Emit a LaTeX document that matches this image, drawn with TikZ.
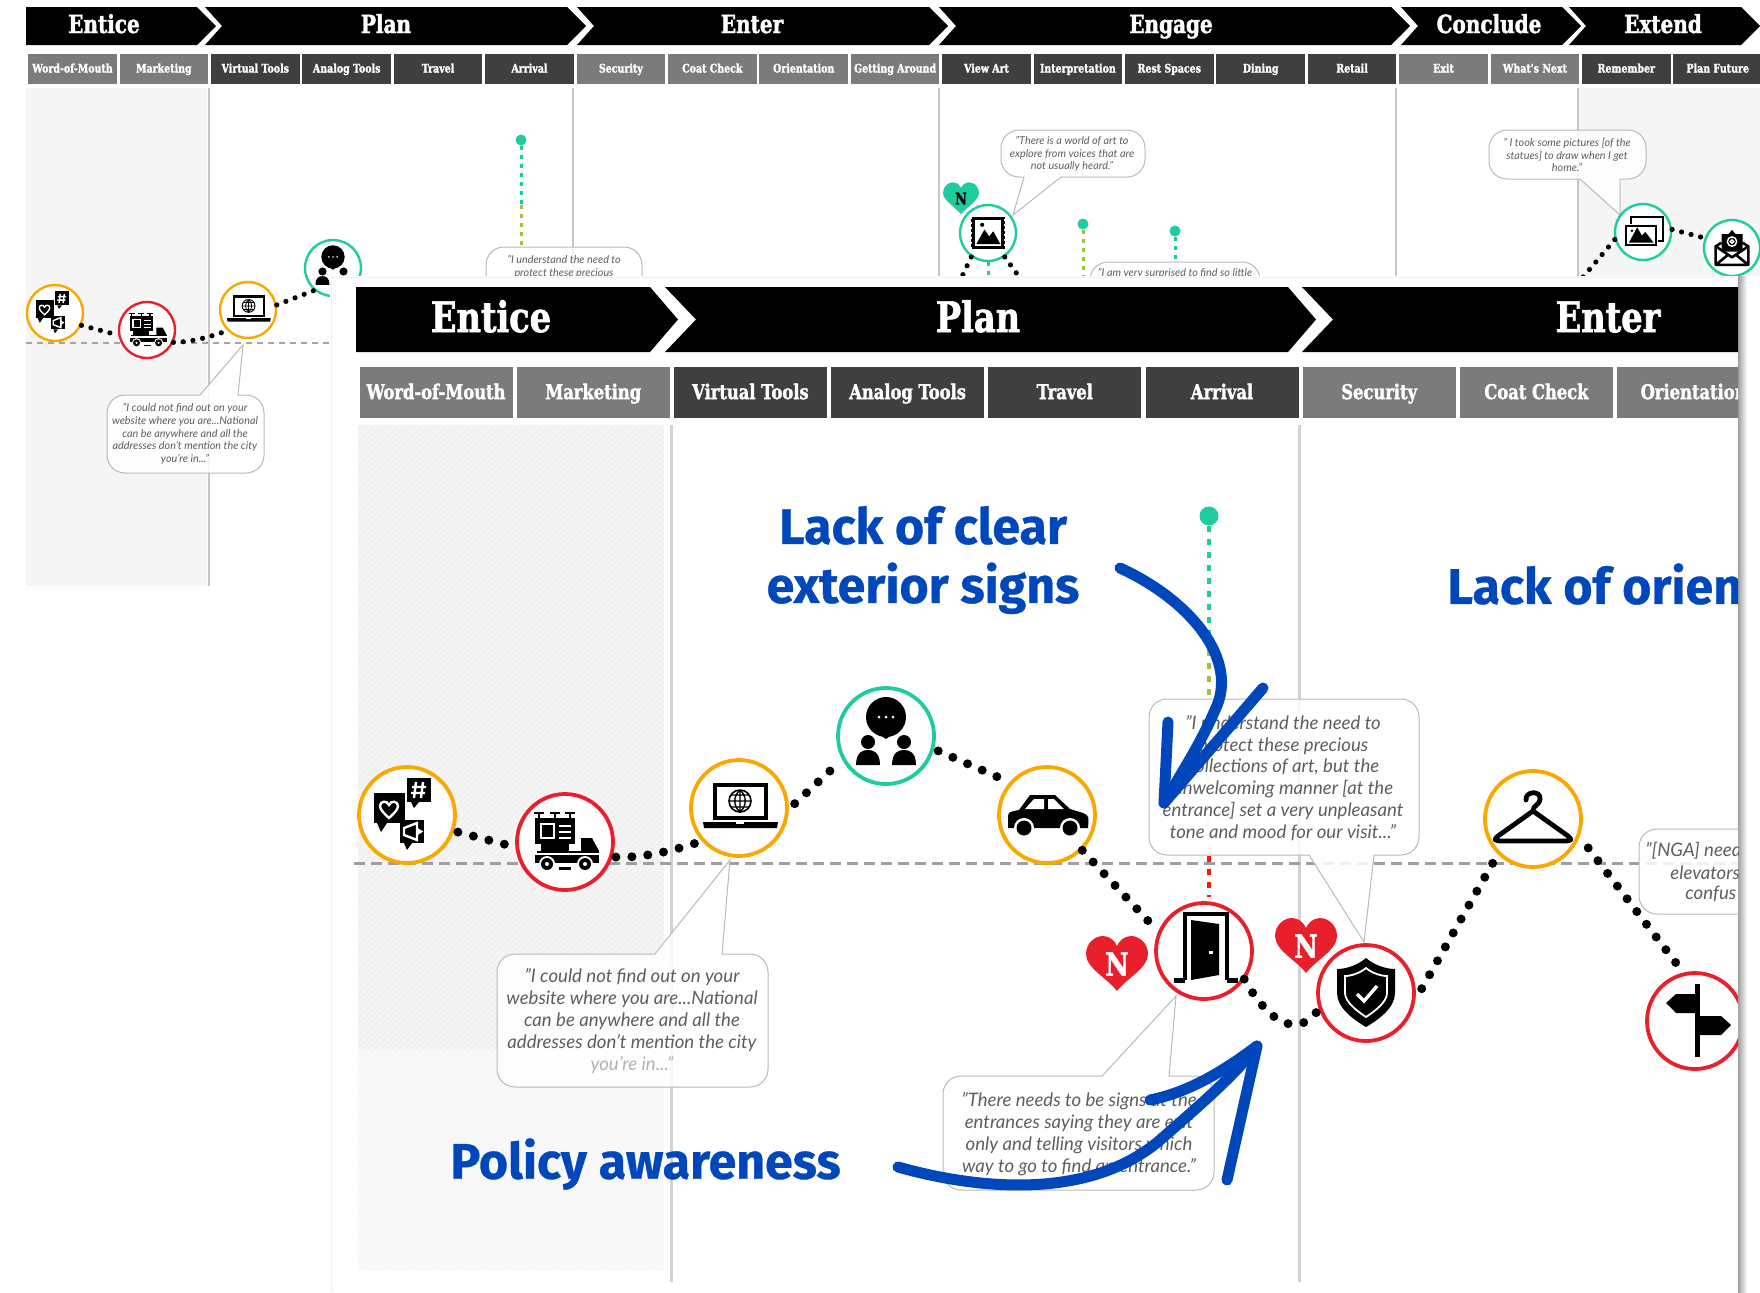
\documentclass[tikz,border=0pt]{standalone}
\usepackage{fontspec}
\usetikzlibrary{patterns}
\setmainfont{Lato}
\newfontfamily\slab[FakeStretch=0.8,FakeBold=1.6]{DejaVu Serif}
\newfontfamily\fira[FakeBold=0.6]{Fira Sans}
\definecolor{orng}{HTML}{F9A800}
\definecolor{redd}{HTML}{E8202C}
\definecolor{teal2}{HTML}{1ECC9F}
\definecolor{cdark}{HTML}{3F3F3F}
\definecolor{clight}{HTML}{7B7B7B}
\definecolor{blu}{HTML}{0047BB}
\definecolor{bgg}{HTML}{F5F5F5}
\definecolor{qgrey}{HTML}{5E5E5E}
\definecolor{lgreen}{HTML}{9BC53D}
\tikzset{
 bigring/.style={circle,fill=white,line width=1.9pt,minimum size=48pt,inner sep=0pt},
 smallring/.style={circle,fill=white,line width=1.2pt,minimum size=28pt,inner sep=0pt},
 idots/.style={line cap=round,dash pattern=on 0pt off 8pt,line width=4.5pt,black},
 tdots/.style={line cap=round,dash pattern=on 0pt off 4.9pt,line width=2.6pt,black},
 cellt/.style={minimum width=44.25pt,minimum height=15pt,inner sep=0pt,text=white,text height=4.2pt,text depth=1pt,font=\slab\bfseries\fontsize{5.9}{6}\selectfont},
 celli/.style={minimum width=76.5pt,minimum height=25.5pt,inner sep=0pt,text=white,text height=7.2pt,text depth=1.7pt,font=\slab\bfseries\fontsize{10.2}{11}\selectfont},
 headt/.style={text=white,text height=9pt,text depth=2pt,font=\slab\bfseries\fontsize{12.5}{13}\selectfont,inner sep=0pt},
 headi/.style={text=white,text height=15pt,text depth=3pt,font=\slab\bfseries\fontsize{21}{22}\selectfont,inner sep=0pt},
 qtop/.style={text=qgrey,align=center,inner sep=0pt,font=\itshape\fontsize{5.4}{6.3}\selectfont},
 qins/.style={text=qgrey,align=center,inner sep=0pt,font=\itshape\fontsize{9.3}{10.9}\selectfont},
 bubble/.style={draw=gray!55,line width=0.5pt,fill=white,fill opacity=0.85},
 bluet/.style={text=blu,align=center,inner sep=0pt,font=\fira\bfseries\fontsize{25}{29.5}\selectfont},
 bluearrow/.style={draw=blu,line width=5.5pt,line cap=round,line join=round},
 pin/.style={circle,fill=teal2,inner sep=0pt},
 pindotsa/.style={teal2,dash pattern=on 2pt off 2.5pt},
 pindotsb/.style={lgreen,dash pattern=on 2pt off 2.5pt},
}
\newcommand\bubtop[9]{% x1 y1 x2 y2 tl tr tipx tipy opts
 \path[bubble,#9] [rounded corners=9pt] (#1,#4) -- (#1,#2) [sharp corners] -- (#5,#2) -- (#7,#8) -- (#6,#2) [rounded corners=9pt] -- (#3,#2) -- (#3,#4) -- cycle;}
\newcommand\bubbot[9]{%
 \path[bubble,#9] [rounded corners=9pt] (#1,#4) -- (#1,#2) -- (#3,#2) -- (#3,#4) [sharp corners] -- (#6,#4) -- (#7,#8) -- (#5,#4) [rounded corners=9pt] -- cycle;}
\newcommand\chev[7]{\fill[black] (#1,#5) -- (#2,#5) -- (#3,#7) -- (#2,#6) -- (#1,#6) -- (#4,#7) -- cycle;}
\newcommand\heartshape{(0,28) .. controls (-10,15) and (-31,5) .. (-31,-9) .. controls (-31,-20) and (-22,-27) .. (-14,-27) .. controls (-7,-27) and (-2,-22) .. (0,-17) .. controls (2,-22) and (7,-27) .. (14,-27) .. controls (22,-27) and (31,-20) .. (31,-9) .. controls (31,5) and (10,15) .. (0,28) -- cycle}
\newcommand\icHeart[7]{\begin{scope}[shift={(#1,#2)},scale=#3]
 \fill[#4] \heartshape;
 \node[text=#5,inner sep=0pt,font=\slab\bfseries\fontsize{#6}{#6}\selectfont] (#7) at (0,1) {N};
\end{scope}}
\newcommand\icChat[3]{\begin{scope}[shift={(#1,#2)},scale=#3]
 \fill (-33,-22) rectangle (-2,8); \fill (-30,8) -- (-26,17) -- (-20,8) -- cycle;
 \draw[white,line width=#3*1.2pt] (-18,3) .. controls (-22,-1) and (-27,-5) .. (-27,-9) .. controls (-27,-14) and (-20,-15) .. (-18,-10) .. controls (-16,-15) and (-9,-14) .. (-9,-9) .. controls (-9,-5) and (-14,-1) .. (-18,3) -- cycle;
 \fill (0,-37) rectangle (24,-13); \fill (4,-13) -- (7,-7) -- (12,-13) -- cycle;
 \draw[white,line width=#3*1.2pt] (9,-33) -- (7,-17) (16,-33) -- (14,-17) (5,-28) -- (19,-28) (4,-22) -- (18,-22);
 \fill (-7,5) rectangle (17,28); \fill (-3,28) -- (0,35) -- (5,28) -- cycle;
 \draw[white,line width=#3*1.2pt] (-3,13) -- (10,8) -- (10,25) -- (-3,20) -- cycle (10,14) -- (14,16.5) -- (10,19);
\end{scope}}
\newcommand\icTruck[3]{\begin{scope}[shift={(#1,#2)},scale=#3]
 \draw[line width=#3*1pt] (-31,-29) -- (-21,-29) (-15,-29) -- (-5,-29) (0,-29) -- (10,-29) (-26,-29) -- (-26,-23) (-10,-29) -- (-10,-23) (5,-29) -- (5,-23);
 \fill (-30,-24) rectangle (10,2);
 \fill[white] (-25,-19) rectangle (-10,-3);
 \fill (-23,-17) rectangle (-12,-5);
 \draw[white,line width=#3*0.9pt] (-6,-16) -- (6,-16) (-6,-10) -- (6,-10) (-6,-4) -- (6,-4);
 \fill (-24,2) rectangle (4,9);
 \fill (-28,9) rectangle (34,11);
 \fill (16,-4) -- (27,-4) -- (34,9) -- (16,9) -- cycle;
 \fill (-30,13) rectangle (34,21);
 \fill[white] (-18,22) circle[radius=8]; \fill (-18,22) circle[radius=6]; \fill[white] (-18,22) circle[radius=2];
 \fill[white] (20,22) circle[radius=8]; \fill (20,22) circle[radius=6]; \fill[white] (20,22) circle[radius=2];
 \fill (-6,25) rectangle (6,28);
\end{scope}}
\newcommand\icLaptop[3]{\begin{scope}[shift={(#1,#2)},scale=#3]
 \fill (-26,-25) rectangle (29,12);
 \fill[white] (-22,-21) rectangle (25,8);
 \draw[line width=#3*0.8pt] (1,-7) circle[radius=11];
 \draw[line width=#3*0.7pt] (1,-18) .. controls (-6,-12) and (-6,-2) .. (1,4) .. controls (8,-2) and (8,-12) .. (1,-18) (1,-18) -- (1,4) (-10,-7) -- (12,-7) (-8,-13) -- (10,-13) (-8,-1) -- (10,-1);
 \fill (-36,14) -- (39,14) -- (38,20) -- (-35,20) -- cycle;
 \fill[white] (-3,14) rectangle (5,16);
\end{scope}}
\newcommand\icPeople[3]{\begin{scope}[shift={(#1,#2)},scale=#3]
 \fill (0,-19) circle[radius=20]; \fill (-7,-2) -- (0,3) -- (7,-2) -- cycle;
 \fill[white] (-7,-19) circle[radius=1.5] (0,-19) circle[radius=1.5] (7,-19) circle[radius=1.5];
 \fill (-18,6) circle[radius=7]; \fill (18,6) circle[radius=7];
 \fill (-30,29) .. controls (-30,15) and (-22,14) .. (-18,14) .. controls (-14,14) and (-6,15) .. (-6,29) -- cycle;
 \fill (30,29) .. controls (30,15) and (22,14) .. (18,14) .. controls (14,14) and (6,15) .. (6,29) -- cycle;
\end{scope}}
\newcommand\icCar[3]{\begin{scope}[shift={(#1,#2)},scale=#3]
 \fill (-39,13) -- (-39,1) .. controls (-38,-3) .. (-28,-5) -- (-17,-20) -- (8,-20) -- (23,-6) -- (36,-2) .. controls (42,1) .. (41,13) -- cycle;
 \fill[white] (-13,-16) -- (-3,-16) -- (-3,-6) -- (-22,-6) -- cycle;
 \fill[white] (1,-16) -- (7,-16) -- (17,-6) -- (1,-6) -- cycle;
 \fill[white] (-23,13) circle[radius=10]; \fill (-23,13) circle[radius=7.5];
 \fill[white] (23,13) circle[radius=10]; \fill (23,13) circle[radius=7.5];
\end{scope}}
\newcommand\icDoor[3]{\begin{scope}[shift={(#1,#2)},scale=#3]
 \draw[line width=#3*2.2pt] (-19,29) -- (-19,-37) -- (23,-37) -- (23,29) (-30,29.5) -- (-19,29.5) (23,29.5) -- (34,29.5);
 \fill (-13,-31) -- (15,-27) -- (15,24) -- (-13,29) -- cycle;
 \fill[white] (5,0) rectangle (9,2.5);
\end{scope}}
\newcommand\icShield[3]{\begin{scope}[shift={(#1,#2)},scale=#3]
 \fill (0,-35) .. controls (8,-28) and (20,-24) .. (29,-24) -- (29,0) .. controls (29,15) and (12,27) .. (0,34) .. controls (-12,27) and (-29,15) .. (-29,0) -- (-29,-24) .. controls (-20,-24) and (-8,-28) .. cycle;
 \draw[white,line width=#3*0.9pt] (0,-25) .. controls (6,-20) and (15,-17) .. (21,-17) -- (21,0) .. controls (21,9) and (9,18) .. (0,24) .. controls (-9,18) and (-21,9) .. (-21,0) -- (-21,-17) .. controls (-15,-17) and (-6,-20) .. cycle;
 \draw[white,line width=#3*1.7pt] (-9,1) -- (-2,8) -- (11,-7);
\end{scope}}
\newcommand\icHanger[3]{\begin{scope}[shift={(#1,#2)},scale=#3]
 \draw[line width=#3*2.4pt,line join=round,line cap=round] (-7,-19) .. controls (-8,-28) and (8,-29) .. (7,-20) .. controls (6,-13) and (0,-14) .. (0,-8) -- (35,17) .. controls (39,21) .. (33,22) -- (-33,22) .. controls (-39,21) .. (-35,17) -- (0,-8);
\end{scope}}
\newcommand\icSign[3]{\begin{scope}[shift={(#1,#2)},scale=#3]
 \fill (0,-37) rectangle (5,36);
 \fill (0,-27) -- (-19,-27) -- (-29,-18) -- (-19,-8) -- (0,-8) -- cycle;
 \fill (5,-5) -- (26,-5) -- (36,4) -- (26,14) -- (5,14) -- cycle;
\end{scope}}
\newcommand\icFrame[3]{\begin{scope}[shift={(#1,#2)},scale=#3]
 \fill (-29,-28) rectangle (29,28);
 \draw[white,line width=#3*0.9pt,dash pattern=on 1pt off 1.5pt] (-29,-28) rectangle (29,28);
 \fill[white] (-23,-22) rectangle (23,22);
 \fill (-20,19) -- (-6,-6) -- (2,6) -- (9,-3) -- (21,19) -- cycle;
 \fill (-10,-14) circle[radius=3.5];
\end{scope}}
\newcommand\icPhotos[3]{\begin{scope}[shift={(#1,#2)},scale=#3]
 \draw[line width=#3*1.8pt] (-21,-26) rectangle (34,15);
 \fill[white] (-31,-14) rectangle (26,26);
 \fill (-31,-12) rectangle (24,24);
 \fill[white] (-27,-8) rectangle (20,20);
 \fill (-24,18) -- (-10,-8) -- (-2,6) -- (4,0) -- (18,18) -- cycle;
 \fill (-19,-2) circle[radius=2.5];
\end{scope}}
\newcommand\icMail[3]{\begin{scope}[shift={(#1,#2)},scale=#3]
 \fill (-18,-24) -- (-6,-24) -- (0,-31) -- (6,-24) -- (18,-24) -- (18,6) -- (-18,6) -- cycle;
 \draw[white,line width=#3*1.2pt] (0,-11) circle[radius=8];
 \draw[white,line width=#3*1.2pt] (0,-11) circle[radius=3];
 \draw[line width=#3*2.2pt,line join=round] (-18,-9) -- (-28,-3) -- (-28,29) -- (28,29) -- (28,-3) -- (18,-9) (-28,-3) -- (0,16) -- (28,-3) (-28,29) -- (-6,11) (28,29) -- (6,11);
\end{scope}}
\begin{document}
\begin{tikzpicture}[x=0.5pt,y=-0.5pt]
\useasboundingbox (0,0) rectangle (1760,1292);
\fill[white] (0,0) rectangle (1760,1292);
% ---------- back sheet
\fill[bgg] (26,88) rectangle (207,586);
\fill[bgg] (1578,88) rectangle (1760,276);
\draw[gray!45,line width=0.6pt] (209,88) -- (209,586) (573,88) -- (573,276) (939,88) -- (939,276) (1396,88) -- (1396,276) (1578,88) -- (1578,276);
\chev{26}{197}{216}{26}{7}{45}{26}
\chev{205}{567}{586}{222}{7}{45}{26}
\chev{577}{929}{948}{594}{7}{45}{26}
\chev{939}{1391}{1410}{956}{7}{45}{26}
\chev{1401}{1562}{1581}{1418}{7}{45}{26}
\chev{1569}{1741}{1760}{1586}{7}{45}{26}
\node[headt] (ht1) at (104,26) {Entice};
\node[headt] (ht2) at (386,26) {Plan};
\node[headt] (ht3) at (752,26) {Enter};
\node[headt] (ht4) at (1171,26) {Engage};
\node[headt] (ht5) at (1489,26) {Conclude};
\node[headt] (ht6) at (1663,26) {Extend};
\foreach \i/\lab/\col in {0/Word-of-Mouth/clight,1/Marketing/clight,2/Virtual Tools/cdark,3/Analog Tools/cdark,4/Travel/cdark,5/Arrival/cdark,6/Security/clight,7/Coat Check/clight,8/Orientation/clight,9/Getting Around/clight,10/View Art/cdark,11/Interpretation/cdark,12/Rest Spaces/cdark,13/Dining/cdark,14/Retail/cdark,15/Exit/clight,16/What's Next/clight,17/Remember/cdark,18/Plan Future/cdark}
 \node[cellt,fill=\col,yshift=0pt] (tc\i) at ({72.5+91.4*\i},68.5) {\raisebox{-0.4pt}{\lab}};
\draw[gray!70,line width=0.8pt,dash pattern=on 3pt off 2.5pt] (26,343) -- (340,343);
% back pins
\node[pin,minimum size=5.5pt] (tp1) at (521,140) {};
\node[pin,minimum size=5.5pt] (tp2) at (1083,224) {};
\node[pin,minimum size=5.5pt] (tp3) at (1175,231) {};
\coordinate (tp1a) at (521,205); \coordinate (tp1b) at (521,246);
\coordinate (tp2b) at (1083,276); \coordinate (tp3b) at (1175,262);
\draw[pindotsa,line width=1.5pt] (tp1) -- (tp1a);
\draw[pindotsb,line width=1.5pt] (tp1a) -- (tp1b);
\draw[pindotsb,line width=1.5pt] (tp2) -- (tp2b);
\draw[pindotsa,line width=1.5pt] (tp3) -- (tp3b);
% back bubbles
\bubtop{107}{395}{264}{473}{200}{238}{243}{345}{}
\node[qtop] (q1) at (185,434) {"I could not find out on your\\website where you are...National\\can be anywhere and all the\\addresses don't mention the city\\you're in..."};
\bubbot{1001}{130}{1145}{177}{1024}{1061}{1013}{215}{}
\node[qtop] (q2) at (1072,154) {"There is a world of art to\\explore from voices that are\\not usually heard."};
\bubbot{1489}{130}{1646}{179}{1580}{1620}{1620}{215}{}
\node[qtop] (q3) at (1567,155) {" I took some pictures [of the\\statues] to draw when I get\\home."};
\path[bubble,rounded corners=9pt] (486,300) -- (486,247) -- (642,247) -- (642,300);
\node[qtop] (q4) at (564,267) {"I understand the need to\\protect these precious};
\path[bubble,rounded corners=9pt] (1090,300) -- (1090,262) -- (1260,262) -- (1260,300);
\node[qtop] (q5) at (1175,273) {"I am very surprised to find so little};
% back rings
\node[smallring,draw=orng] (t1) at (55,313) {};
\node[smallring,draw=redd] (t2) at (147,330) {};
\node[smallring,draw=orng] (t3) at (248,310) {};
\node[smallring,draw=teal2] (t4) at (333,268) {};
\node[smallring,draw=teal2] (t5) at (988,233) {};
\node[smallring,draw=teal2] (t6) at (1643,232) {};
\node[smallring,draw=teal2] (t7) at (1732,248) {};
\icChat{55}{313}{0.583}
\icTruck{147}{330}{0.583}
\icLaptop{248}{310}{0.583}
\icPeople{333}{268}{0.583}
\icFrame{988}{233}{0.583}
\icPhotos{1643}{232}{0.583}
\icMail{1732}{248}{0.583}
\icHeart{961}{198}{0.58}{teal2}{black}{8}{hn0}
\draw[tdots] (t1.-25) -- (t2.190);
\draw[tdots] (t2.-25) .. controls (195,342) and (215,335) .. (t3.-135);
\draw[tdots] (t3.10) -- (t4.-130);
\coordinate (t5l) at (958,285); \coordinate (t5r) at (1025,285); \coordinate (t5c) at (988,285); \coordinate (t6d) at (1572,290);
\draw[tdots] (t5.-125) -- (t5l);
\draw[tdots] (t5.-55) -- (t5r);
\draw[pindotsa,line width=1.5pt] (t5) ++(0,29) -- (t5c);
\draw[tdots] (t6.-165) -- (t6d);
\draw[tdots] (t6.5) -- (t7.160);
% ---------- front sheet
\fill[white] (330,276) rectangle (1738,1292);
\draw[gray!12,line width=0.5pt] (331,1292) -- (331,277) -- (1738,277);
\shade[left color=gray!75,right color=white] (1738,276) rectangle (1747,1292);
\begin{scope}
\clip (330,276) rectangle (1738,1292);
\chev{356}{650}{678}{356}{287}{352}{319.5}
\chev{665}{1288}{1316}{696}{287}{352}{319.5}
\chev{1302}{1790}{1790}{1333}{287}{352}{319.5}
\node[headi] (hi1) at (491,320) {Entice};
\node[headi] (hi2) at (978,320) {Plan};
\node[headi] (hi3) at (1608,320) {Enter};
\foreach \i/\lab/\col in {0/Word-of-Mouth/clight,1/Marketing/clight,2/Virtual Tools/cdark,3/Analog Tools/cdark,4/Travel/cdark,5/Arrival/cdark,6/Security/clight,7/Coat Check/clight,8/Orientation/clight}
 \node[celli,fill=\col] (ic\i) at ({436+157.2*\i},392) {\raisebox{-0.8pt}{\lab}};
\fill[bgg] (358,425) rectangle (664,1050);
\fill[pattern=north east lines,pattern color=gray!14] (358,425) rectangle (664,1050);
\fill[bgg!55] (358,1050) rectangle (664,1270);
\fill[pattern=north east lines,pattern color=gray!8] (358,1050) rectangle (664,1270);
\draw[gray!35,line width=1.5pt] (671,425) -- (671,1282) (1299,425) -- (1299,1282);
\draw[gray!75,line width=1.5pt,dash pattern=on 5.5pt off 3pt] (354,863) -- (1738,863);
% pin
\node[pin,minimum size=9.5pt] (ip) at (1209,516) {};
\coordinate (ipa) at (1209,650); \coordinate (ipb) at (1209,700); \coordinate (ipc) at (1209,856); \coordinate (ipd) at (1209,897);
\draw[pindotsa,line width=2.4pt,dash pattern=on 3pt off 3.5pt] (ip) -- (ipa);
\draw[pindotsb,line width=2.4pt,dash pattern=on 3pt off 3.5pt] (ipa) -- (ipb);
\draw[orange!30,line width=2.4pt,dash pattern=on 3pt off 3.5pt] (ipb) -- (ipc);
\draw[red!80!orange,line width=2.4pt,dash pattern=on 3pt off 3.5pt] (ipc) -- (ipd);
% bubbles
\bubtop{497}{954}{768}{1087}{655}{722}{730}{860}{}
\node[qins] (b1) at (632,1021) {"I could not find out on your\\website where you are...National\\can be anywhere and all the\\addresses don't mention the city\\\textcolor{gray!60}{you're in..."}};
\bubtop{943}{1076}{1214}{1190}{1102}{1169}{1176}{996}{}
\node[qins] (b2) at (1079,1134) {"There needs to be signs at the\\entrances saying they are exit\\only and telling visitors which\\way to go to find an entrance."};
\bubbot{1149}{699}{1419}{855}{1309}{1374}{1364}{942}{}
\node[qins] (b3) at (1283,778) {"I understand the need to\\protect these precious\\collections of art, but the\\unwelcoming manner [at the\\entrance] set a very unpleasant\\tone and mood for our visit..."};
\path[bubble,rounded corners=9pt] (1780,914) -- (1639,914) -- (1639,829) -- (1780,829);
\node[qins,anchor=west] (b4a) at (1645,851) {"[NGA] need};
\node[qins,anchor=west] (b4b) at (1670,873) {elevators};
\node[qins,anchor=west] (b4c) at (1685,894) {confus};
% rings
\node[bigring,draw=orng] (c1) at (407,815) {};
\node[bigring,draw=redd] (c2) at (565,842) {};
\node[bigring,draw=orng] (c3) at (739,808) {};
\node[bigring,draw=teal2] (c4) at (886,736) {};
\node[bigring,draw=orng] (c5) at (1047,815) {};
\node[bigring,draw=redd] (c6) at (1204,951) {};
\node[bigring,draw=redd] (c7) at (1366,993) {};
\node[bigring,draw=orng] (c8) at (1533,819) {};
\node[bigring,draw=redd] (c9) at (1695,1021) {};
\icChat{407}{815}{1}
\icTruck{565}{842}{1}
\icLaptop{739}{808}{1}
\icPeople{886}{736}{1}
\icCar{1047}{815}{1}
\icDoor{1204}{951}{1}
\icShield{1366}{993}{1}
\icHanger{1533}{819}{1}
\icSign{1695}{1021}{1}
\icHeart{1117}{963}{1}{redd}{white}{16}{hn1}
\icHeart{1306}{945}{1}{redd}{white}{16}{hn2}
% dotted journey
\draw[idots] ([shift={(2pt,0pt)}]c1.-20) -- ([shift={(-1pt,2pt)}]c2.190);
\draw[idots] ([shift={(2pt,1pt)}]c2.-20) .. controls (650,858) and (680,848) .. ([shift={(-1pt,1pt)}]c3.-135);
\draw[idots] ([shift={(3pt,0pt)}]c3.5) -- ([shift={(-1pt,0pt)}]c4.-150);
\draw[idots] ([shift={(2pt,-1pt)}]c4.-15) -- ([shift={(-1pt,1pt)}]c5.140);
\draw[idots] (c5.-45) -- ([shift={(-3pt,-1pt)}]c6.150);
\draw[idots] ([shift={(1pt,2pt)}]c6.-40) .. controls (1270,1025) and (1300,1040) .. ([shift={(-1pt,6pt)}]c7.-150);
\draw[idots] ([shift={(3pt,0pt)}]c7.5) -- (c8.-135);
\draw[idots] ([shift={(6pt,-2pt)}]c8.-30) -- ([shift={(-1pt,-1pt)}]c9.100);
% blue notes
\node[bluet] (n1) at (923,560) {Lack of clear\\exterior signs};
\node[bluet,anchor=west] (n2) at (1447,584) {Lack of orien};
\node[bluet,anchor=west] (n3) at (450,1164) {Policy awareness};
\coordinate (a1s) at (1120,568); \coordinate (a1t) at (1164,803); \coordinate (a1b1) at (1168,722); \coordinate (a1b2) at (1263,688);
\draw[bluearrow] (a1s) .. controls (1190,600) and (1240,660) .. (1215,710) .. controls (1200,745) and (1180,775) .. (a1t);
\draw[bluearrow] (a1b1) -- (a1t) -- (a1b2);
\coordinate (a2s) at (898,1167); \coordinate (a2t) at (1257,1046); \coordinate (a2b1) at (1150,1100); \coordinate (a2b2) at (1227,1180);
\draw[bluearrow] (a2s) .. controls (980,1190) and (1090,1200) .. (1160,1140) .. controls (1200,1105) and (1235,1075) .. (a2t);
\draw[bluearrow] (a2b1) .. controls (1190,1092) and (1225,1070) .. (a2t) -- (a2b2);
\end{scope}
\end{tikzpicture}
\end{document}
